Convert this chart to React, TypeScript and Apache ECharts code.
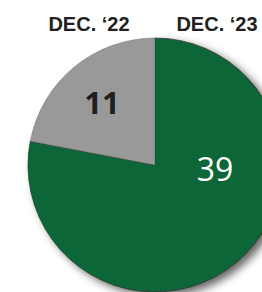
import React, { useEffect, useRef } from "react";
import * as echarts from "echarts";

const categories = ["DEC. \u201823", "DEC. \u201822"];
const values = [39, 11];
const colors = ["#106638", "#999999"];
const labelColors = ["#ffffff", "#231f20"];
const labelWeights = ["500", "bold"];
const labelSizes = [32, 31];
const labelPos = [[215, 168], [102, 102]];
const headerPos = [[217, 24], [89, 24]];

export default function App() {
  const ref = useRef<HTMLDivElement>(null);
  useEffect(() => {
    document.body.style.margin = "0";
    const chart = echarts.init(ref.current!, null, { renderer: "svg" });
    const graphics: any[] = [];
    categories.forEach((c, i) => {
      graphics.push({
        type: "text",
        x: headerPos[i][0],
        y: headerPos[i][1],
        style: {
          text: c,
          fill: "#231f20",
          font: "bold 20px 'Liberation Sans', Arial, sans-serif",
          textAlign: "center",
          textVerticalAlign: "middle",
        },
      });
      graphics.push({
        type: "text",
        x: labelPos[i][0],
        y: labelPos[i][1],
        z: 10,
        style: {
          text: String(values[i]),
          fill: labelColors[i],
          font: `${labelWeights[i]} ${labelSizes[i]}px 'Open Sans', sans-serif`,
          textAlign: "center",
          textVerticalAlign: "middle",
        },
      });
    });
    chart.setOption({
      animation: false,
      graphic: graphics,
      series: [
        {
          type: "pie",
          center: [155, 165],
          radius: 127,
          startAngle: 90,
          clockwise: true,
          label: { show: false },
          labelLine: { show: false },
          emphasis: { disabled: true },
          data: values.map((v, i) => ({
            value: v,
            name: categories[i],
            itemStyle:
              i === 0
                ? {
                    color: colors[i],
                    borderColor: "#2a2a2a",
                    borderWidth: 0.7,
                    shadowColor: "rgba(0,0,0,0.6)",
                    shadowBlur: 9,
                    shadowOffsetX: 5,
                    shadowOffsetY: 4,
                  }
                : { color: colors[i], borderColor: "#555", borderWidth: 0.4 },
          })),
        },
      ],
    });
    return () => chart.dispose();
  }, []);
  return <div ref={ref} style={{ width: 262, height: 292 }} />;
}
